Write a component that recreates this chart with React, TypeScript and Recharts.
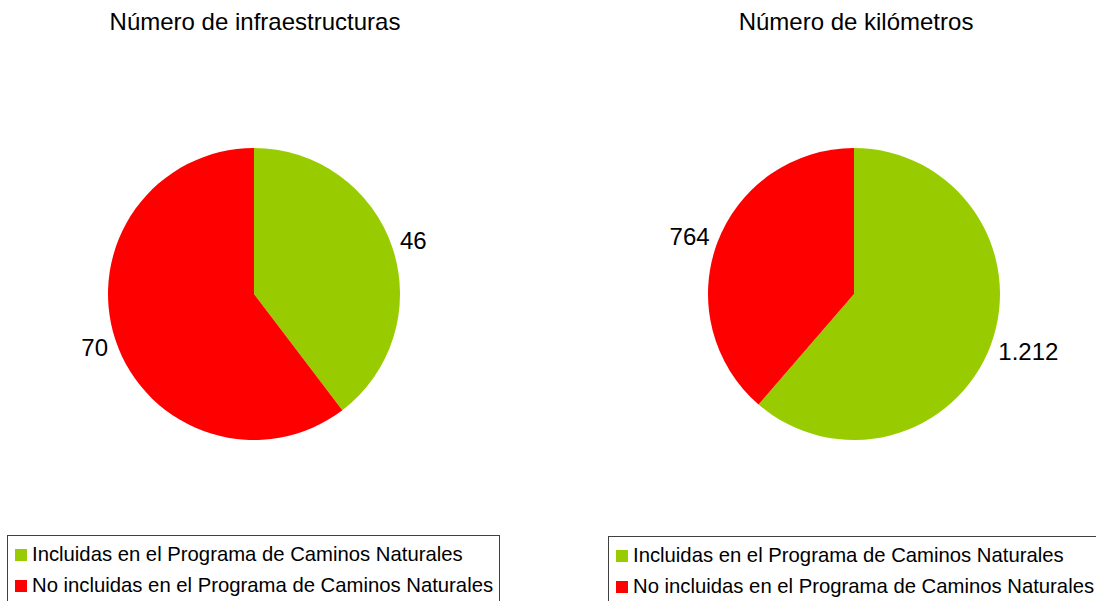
import React from "react";
import { PieChart, Pie, Cell } from "recharts";

const CATEGORIES = [
  "Incluidas en el Programa de Caminos Naturales",
  "No incluidas en el Programa de Caminos Naturales",
];
const COLORS = ["#99cc00", "#ff0000"];
const INFRA_VALUES = [46, 70];
const KM_VALUES = [1212, 764];
const TITLES = ["Número de infraestructuras", "Número de kilómetros"];

const FONT = '"Liberation Sans", Arial, sans-serif';
const RAD = Math.PI / 180;

const infraData = CATEGORIES.map((name, i) => ({ name, value: INFRA_VALUES[i] }));
const kmData = CATEGORIES.map((name, i) => ({ name, value: KM_VALUES[i] }));

const fmt = (v: number) => String(v).replace(/\B(?=(\d{3})+(?!\d))/g, ".");

// labels sit just outside the slice, anchored away from the pie like Excel does
const renderLabel = (props: any) => {
  const { cx, cy, midAngle, outerRadius, value } = props;
  const cos = Math.cos(-midAngle * RAD);
  const sin = Math.sin(-midAngle * RAD);
  const x = cx + (outerRadius + 8) * cos;
  const y = cy + (outerRadius + 20) * sin;
  return (
    <text
      x={x}
      y={y}
      textAnchor={cos >= 0 ? "start" : "end"}
      dominantBaseline="central"
      fill="#000"
      fontSize={24}
      fontFamily={FONT}
    >
      {fmt(value)}
    </text>
  );
};

function LegendBox({ left, top, width }: { left: number; top: number; width: number }) {
  return (
    <div
      style={{
        position: "absolute",
        left,
        top,
        width,
        height: 100,
        border: "1px solid #404040",
        boxSizing: "border-box",
        paddingTop: 3,
        paddingLeft: 7,
        fontFamily: FONT,
        fontSize: 20.3,
        color: "#000",
      }}
    >
      {CATEGORIES.map((c, i) => (
        <div key={c} style={{ display: "flex", alignItems: "center", height: 31, whiteSpace: "nowrap" }}>
          <span
            style={{
              display: "inline-block",
              width: 12,
              height: 12,
              background: COLORS[i],
              marginRight: 5,
              flexShrink: 0,
            }}
          />
          <span>{c}</span>
        </div>
      ))}
    </div>
  );
}

export default function App() {
  return (
    <div
      style={{
        position: "absolute",
        left: 0,
        top: 0,
        width: 1096,
        height: 601,
        overflow: "hidden",
        background: "#fff",
      }}
    >
      {TITLES.map((t, i) => (
        <div
          key={t}
          style={{
            position: "absolute",
            left: i === 0 ? 255 - 250 : 856 - 250,
            top: 8,
            width: 500,
            textAlign: "center",
            fontFamily: FONT,
            fontSize: 24,
            color: "#000",
          }}
        >
          {t}
        </div>
      ))}
      <div style={{ position: "absolute", left: 0, top: 0 }}>
        <PieChart width={1096} height={601} margin={{ top: 0, right: 0, bottom: 0, left: 0 }}>
          <Pie
            data={infraData}
            dataKey="value"
            cx={254}
            cy={294}
            outerRadius={146}
            startAngle={90}
            endAngle={-270}
            stroke="none"
            label={renderLabel}
            labelLine={false}
            isAnimationActive={false}
          >
            {infraData.map((d, i) => (
              <Cell key={d.name} fill={COLORS[i]} />
            ))}
          </Pie>
          <Pie
            data={kmData}
            dataKey="value"
            cx={854}
            cy={294}
            outerRadius={146}
            startAngle={90}
            endAngle={-270}
            stroke="none"
            label={renderLabel}
            labelLine={false}
            isAnimationActive={false}
          >
            {kmData.map((d, i) => (
              <Cell key={d.name} fill={COLORS[i]} />
            ))}
          </Pie>
        </PieChart>
      </div>
      <LegendBox left={7} top={535} width={493} />
      <LegendBox left={608} top={536} width={600} />
    </div>
  );
}
